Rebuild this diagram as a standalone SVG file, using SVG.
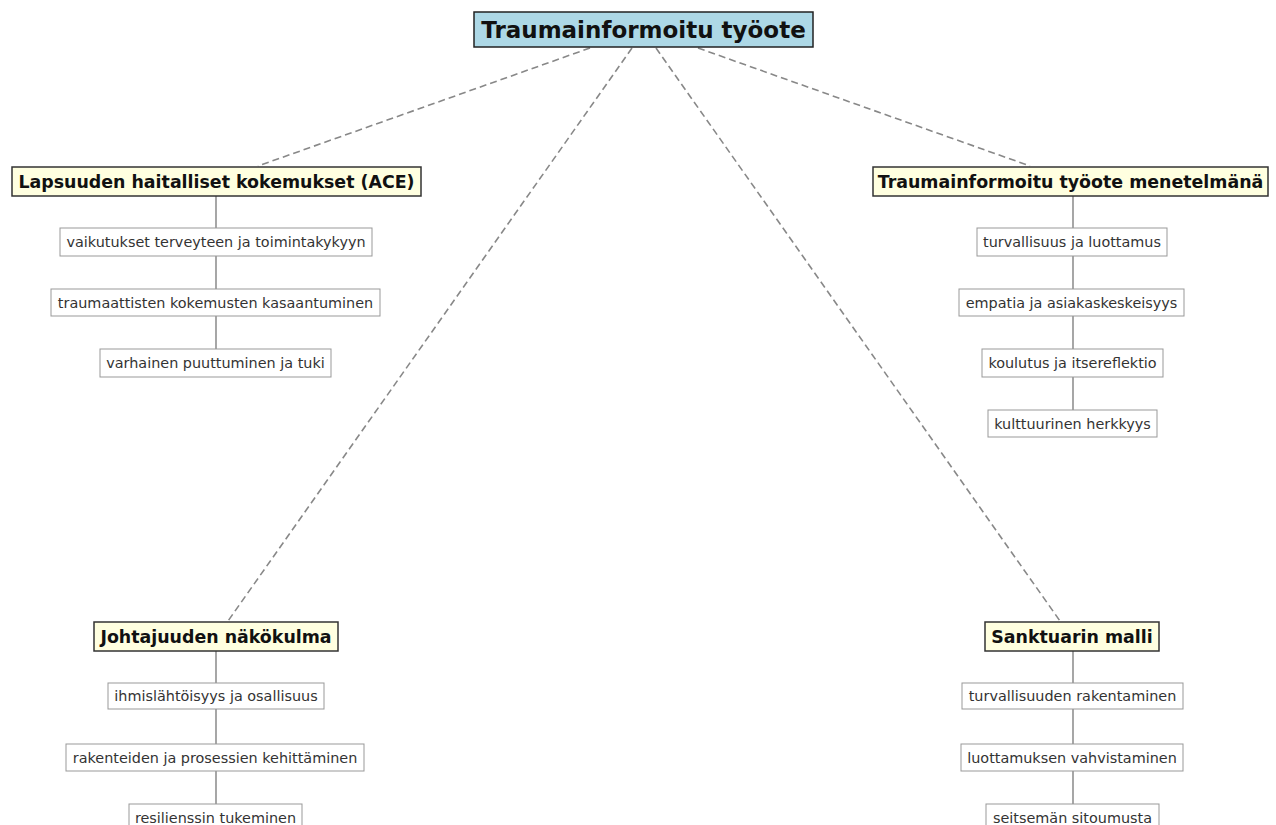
<svg xmlns="http://www.w3.org/2000/svg" width="1276" height="825" viewBox="0 0 1276 825">
<style>
.root rect{fill:#add8e6;stroke:#222;stroke-width:1.5}
.root text{font-family:"DejaVu Sans",sans-serif;font-weight:bold;font-size:23px;fill:#111;text-anchor:middle}
.cat rect{fill:#ffffe0;stroke:#333;stroke-width:1.5}
.cat text{font-family:"DejaVu Sans",sans-serif;font-weight:bold;font-size:17.4px;fill:#111;text-anchor:middle}
.leaf rect{fill:#fff;stroke:#999;stroke-width:1}
.leaf text{font-family:"DejaVu Sans",sans-serif;font-size:14.4px;fill:#333;text-anchor:middle}
.dash{stroke:#888;stroke-width:1.6;stroke-dasharray:7,4;fill:none}
.solid{stroke:#777;stroke-width:1.3;fill:none}
</style>
<rect width="1276" height="825" fill="#fff"/>
<g id="connectors">
<line class="dash" x1="590" y1="48" x2="258" y2="166"/>
<line class="dash" x1="632" y1="48" x2="228" y2="621"/>
<line class="dash" x1="656" y1="48" x2="1060" y2="621"/>
<line class="dash" x1="698" y1="48" x2="1030" y2="166"/>
<line class="solid" x1="216" y1="196" x2="216" y2="349"/>
<line class="solid" x1="1073" y1="196" x2="1073" y2="410"/>
<line class="solid" x1="216" y1="651" x2="216" y2="804"/>
<line class="solid" x1="1073" y1="651" x2="1073" y2="804"/>
</g>
<g id="root" class="root"><rect x="474" y="12" width="339" height="35"/><text x="643.5" y="37.5">Traumainformoitu työote</text></g>
<g id="cat1" class="cat"><rect x="12" y="167" width="409" height="29"/><text x="216.5" y="187.5">Lapsuuden haitalliset kokemukset (ACE)</text></g>
<g id="c1a" class="leaf"><rect x="60" y="228" width="312" height="28"/><text x="216" y="247">vaikutukset terveyteen ja toimintakykyyn</text></g>
<g id="c1b" class="leaf"><rect x="51" y="289" width="329" height="27"/><text x="215.5" y="307.5">traumaattisten kokemusten kasaantuminen</text></g>
<g id="c1c" class="leaf"><rect x="100" y="349" width="231" height="28"/><text x="215.5" y="368">varhainen puuttuminen ja tuki</text></g>
<g id="cat2" class="cat"><rect x="873" y="167" width="395" height="29"/><text x="1070.5" y="187.5">Traumainformoitu työote menetelmänä</text></g>
<g id="c2a" class="leaf"><rect x="977" y="228" width="190" height="28"/><text x="1072" y="247">turvallisuus ja luottamus</text></g>
<g id="c2b" class="leaf"><rect x="959" y="289" width="225" height="27"/><text x="1071.5" y="307.5">empatia ja asiakaskeskeisyys</text></g>
<g id="c2c" class="leaf"><rect x="982" y="349" width="181" height="28"/><text x="1072.5" y="368">koulutus ja itsereflektio</text></g>
<g id="c2d" class="leaf"><rect x="988" y="410" width="169" height="27"/><text x="1072.5" y="428.5">kulttuurinen herkkyys</text></g>
<g id="cat3" class="cat"><rect x="94" y="622" width="244" height="29"/><text x="216" y="642.5">Johtajuuden näkökulma</text></g>
<g id="c3a" class="leaf"><rect x="108" y="683" width="216" height="26"/><text x="216" y="701">ihmislähtöisyys ja osallisuus</text></g>
<g id="c3b" class="leaf"><rect x="66" y="744" width="298" height="27"/><text x="215" y="762.5">rakenteiden ja prosessien kehittäminen</text></g>
<g id="c3c" class="leaf"><rect x="129" y="804" width="173" height="28"/><text x="215.5" y="823">resilienssin tukeminen</text></g>
<g id="cat4" class="cat"><rect x="985" y="622" width="174" height="29"/><text x="1072" y="642.5">Sanktuarin malli</text></g>
<g id="c4a" class="leaf"><rect x="962" y="683" width="221" height="26"/><text x="1072.5" y="701">turvallisuuden rakentaminen</text></g>
<g id="c4b" class="leaf"><rect x="961" y="744" width="222" height="27"/><text x="1072" y="762.5">luottamuksen vahvistaminen</text></g>
<g id="c4c" class="leaf"><rect x="986" y="804" width="173" height="28"/><text x="1072.5" y="823">seitsemän sitoumusta</text></g>
</svg>
